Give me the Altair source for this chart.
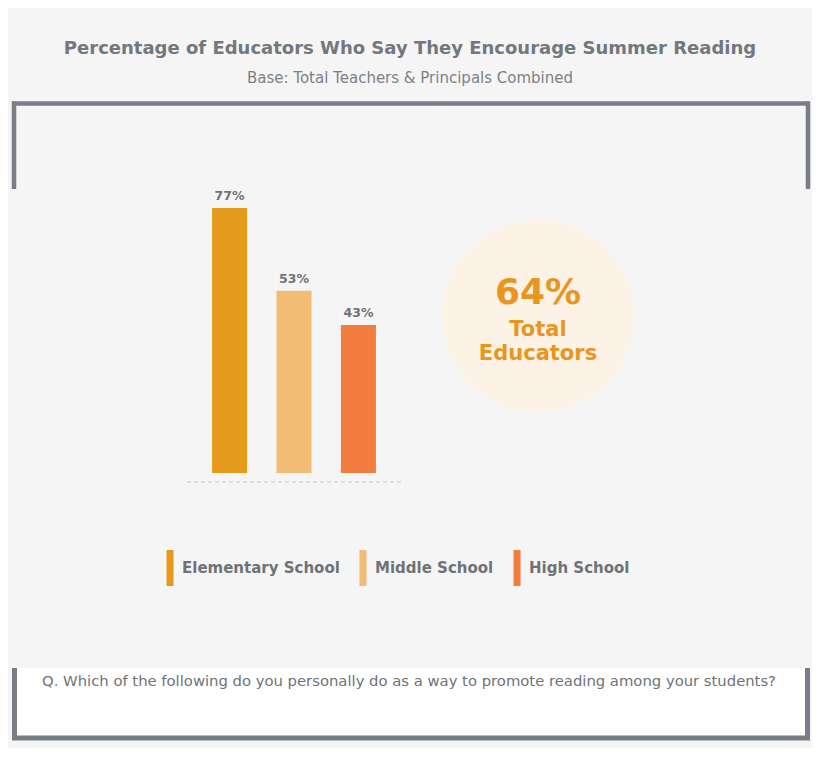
import altair as alt
import pandas as pd

# ---- data ----
categories = ["Elementary School", "Middle School", "High School"]
values = [77, 53, 43]
value_labels = ["77%", "53%", "43%"]
colors = ["#E59A1C", "#F2BC74", "#F37D3F"]
total_label = ["64%"]
total_caption = ["Total", "Educators"]
title_text = ["Percentage of Educators Who Say They Encourage Summer Reading"]
subtitle_text = ["Base: Total Teachers & Principals Combined"]
question_text = ["Q. Which of the following do you personally do as a way to promote reading among your students?"]

FONT = "DejaVu Sans"
GRAY_TXT = "#6E7378"
FRAME = "#787E83"

df = pd.DataFrame({"school": categories, "pct": values, "label": value_labels})
one = pd.DataFrame({"a": [0]})

xscale = alt.Scale(domain=categories, range=[179, 393], paddingInner=0, paddingOuter=0.16)
yscale = alt.Scale(domain=[0, 100], range=[465, 121])

legend = alt.Legend(
    title=None, orient="none", legendX=156, legendY=551, direction="horizontal",
    symbolType="M-0.72,-2H0.06V2H-0.72Z", symbolSize=324, symbolStrokeWidth=0,
    symbolOpacity=1, labelFont=FONT, labelFontSize=15, labelFontWeight="bold",
    labelColor=GRAY_TXT, labelOffset=0, columnPadding=17, padding=0,
)

bars = alt.Chart(df).mark_bar(size=35).encode(
    x=alt.X("school:N", sort=categories, scale=xscale, axis=None),
    y=alt.Y("pct:Q", scale=yscale, axis=None),
    color=alt.Color("school:N", sort=categories,
                    scale=alt.Scale(domain=categories, range=colors), legend=legend),
)
bar_text = alt.Chart(df).mark_text(dy=-8, baseline="alphabetic", font=FONT, fontSize=12.5,
                                   fontWeight="bold", color=GRAY_TXT).encode(
    x=alt.X("school:N", sort=categories, scale=xscale, axis=None),
    y=alt.Y("pct:Q", scale=yscale, axis=None),
    text="label:N",
)

def rule(x, y, x2=None, y2=None, width=4.5, color=FRAME, dash=None):
    kw = dict(strokeWidth=width, color=color)
    if dash:
        kw["strokeDash"] = dash
    enc = dict(x=alt.value(x), y=alt.value(y))
    if x2 is not None:
        enc["x2"] = alt.value(x2)
    if y2 is not None:
        enc["y2"] = alt.value(y2)
    return alt.Chart(one).mark_rule(**kw).encode(**enc)

# top bracket frame
frame_top = rule(4, 95.5, x2=802)
frame_l = rule(6, 93.5, y2=181)
frame_r = rule(800, 93.5, y2=181)

# bottom question box
qbox = alt.Chart(one).mark_rect(color="white").encode(
    x=alt.value(4), x2=alt.value(802), y=alt.value(660), y2=alt.value(730))
qb_l = rule(6.5, 660, y2=732, width=5)
qb_r = rule(799.5, 660, y2=732, width=5)
qb_b = rule(4, 730, x2=802, width=5)

axis_line = rule(179, 474, x2=393, width=1, color="#C3C7CB", dash=[4, 3])

circle = alt.Chart(one).mark_circle(size=36864, color="#FDF2E6", opacity=1).encode(
    x=alt.value(530), y=alt.value(308))

tot_df = pd.DataFrame({"t": total_label})
tot_text = alt.Chart(tot_df).mark_text(font=FONT, fontSize=36, fontWeight="bold",
                                       color="#E8961E", baseline="middle").encode(
    x=alt.value(530), y=alt.value(285), text="t:N")
cap_df = pd.DataFrame({"t": [total_caption]})
cap_text = alt.Chart(cap_df).mark_text(font=FONT, fontSize=21, fontWeight="bold",
                                       color="#E8961E", baseline="middle", lineHeight=24).encode(
    x=alt.value(530), y=alt.value(322), text="t")

title = alt.Chart(pd.DataFrame({"t": title_text})).mark_text(
    font=FONT, fontSize=18, fontWeight="bold", color="#72787D", baseline="middle").encode(
    x=alt.value(402), y=alt.value(41), text="t:N")
subtitle = alt.Chart(pd.DataFrame({"t": subtitle_text})).mark_text(
    font=FONT, fontSize=15, color="#7D8185", baseline="middle").encode(
    x=alt.value(402), y=alt.value(70), text="t:N")
question = alt.Chart(pd.DataFrame({"t": question_text})).mark_text(
    font=FONT, fontSize=14.8, color=GRAY_TXT, baseline="middle").encode(
    x=alt.value(401), y=alt.value(674), text="t:N")

chart = alt.layer(
    qbox, qb_l, qb_r, qb_b, frame_top, frame_l, frame_r,
    circle, tot_text, cap_text, bars, bar_text, axis_line,
    title, subtitle, question,
).properties(
    width=804, height=740, autosize=alt.AutoSizeParams(type="none"), padding=0,
).configure(background="#F5F5F5").configure_view(strokeWidth=0)

chart.save("out.html", embed_options={"renderer": "svg", "actions": False})
